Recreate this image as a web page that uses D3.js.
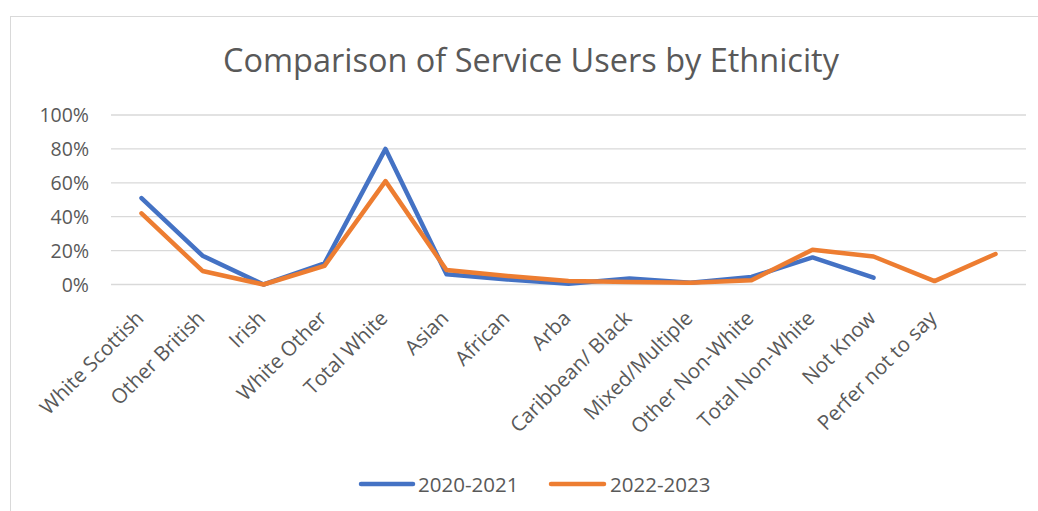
<!DOCTYPE html>
<html><head><meta charset="utf-8">
<script src="https://cdn.jsdelivr.net/npm/d3@7/dist/d3.min.js"></script>
<style>body{margin:0;background:#fff;}svg{display:block;font-family:"Open Sans",sans-serif;}</style>
</head><body>
<svg id="chart" width="1038" height="511"></svg>
<script>
const categories = ["White Scottish","Other British","Irish","White Other","Total White","Asian","African","Arba","Caribbean/ Black","Mixed/Multiple","Other Non-White","Total Non-White","Not Know","Perfer not to say",""];
const series2020 = [0.51,0.17,0.00,0.125,0.80,0.06,0.03,0.005,0.035,0.01,0.045,0.16,0.04,null,null];
const series2022 = [0.42,0.08,0.00,0.11,0.61,0.085,0.05,0.02,0.015,0.01,0.025,0.205,0.165,0.02,0.18];
const yTicks = [0,0.2,0.4,0.6,0.8,1.0];
const seriesNames = ["2020-2021","2022-2023"];
const colors = ["#4472C4","#ED7D31"];

(function(){
const svg = d3.select("#chart");
const W=1038,H=511;
const pLeft=111, pRight=1026, pTop=115, pBottom=284.5;

// outer border
svg.append("rect").attr("x",10.5).attr("y",16.5).attr("width",W+20).attr("height",H+20)
  .attr("fill","none").attr("stroke","#d9d9d9").attr("stroke-width",1);

const x = d3.scalePoint().domain(categories.map((c,i)=>i)).range([pLeft,pRight]).padding(0.5);
const y = d3.scaleLinear().domain([0,1]).range([pBottom,pTop]);

// gridlines
svg.append("g").selectAll("line").data(yTicks).join("line")
  .attr("x1",pLeft).attr("x2",pRight).attr("y1",d=>y(d)).attr("y2",d=>y(d))
  .attr("stroke","#d9d9d9").attr("stroke-width",1.3);

// y axis
const yAxis = svg.append("g").attr("transform",`translate(${pLeft-22},0)`)
  .call(d3.axisLeft(y).tickValues(yTicks).tickFormat(d3.format(".0%")).tickSize(0).tickPadding(0));
yAxis.select(".domain").remove();
yAxis.selectAll("text").attr("fill","#595959").style("font-size","19.5px").style("font-family","'Open Sans',sans-serif").attr("dy","0.35em");

// x axis labels
const xAxis = svg.append("g").attr("transform",`translate(0,${pBottom})`)
  .call(d3.axisBottom(x).tickFormat(i=>categories[i]).tickSize(0).tickPadding(0));
xAxis.select(".domain").remove();
xAxis.selectAll("text").attr("fill","#595959").style("font-size","20.5px").style("font-family","'Open Sans',sans-serif")
  .attr("text-anchor","end").attr("dy","0")
  .attr("transform","translate(3,35) rotate(-45)");

// lines
const data=[series2020,series2022];
const line = d3.line().defined(d=>d.v!=null).x(d=>x(d.i)).y(d=>y(d.v));
data.forEach((s,k)=>{
  svg.append("path").datum(s.map((v,i)=>({i,v})))
    .attr("d",line).attr("fill","none").attr("stroke",colors[k]).attr("stroke-width",4.5)
    .attr("stroke-linejoin","round").attr("stroke-linecap","round");
});

// title
const title = svg.append("text").attr("x",531).attr("y",72).attr("text-anchor","middle")
  .attr("fill","#595959").style("font-size","28px").style("font-family","'Open Sans',sans-serif")
  .text("Comparison of Service Users by Ethnicity");
const tw = title.node().getComputedTextLength();
title.style("font-size",(28*616/tw)+"px");

// legend
const leg = [[361,413,418],[551,604,610]];
seriesNames.forEach((n,k)=>{
  svg.append("line").attr("x1",leg[k][0]).attr("x2",leg[k][1]).attr("y1",484).attr("y2",484)
    .attr("stroke",colors[k]).attr("stroke-width",4.5).attr("stroke-linecap","round");
  svg.append("text").attr("x",leg[k][2]).attr("y",491.5).attr("fill","#595959")
    .style("font-size","20.5px").style("font-family","'Open Sans',sans-serif").text(n);
});
})();
</script>
</body></html>
